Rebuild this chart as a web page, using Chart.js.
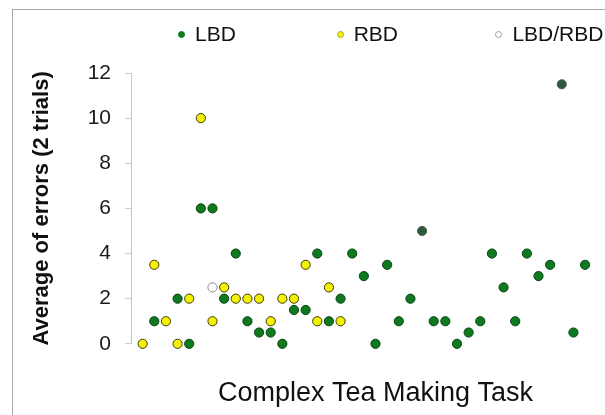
<!DOCTYPE html>
<html>
<head>
<meta charset="utf-8">
<script src="https://cdn.jsdelivr.net/npm/chart.js@4.4.1/dist/chart.umd.min.js"></script>
<style>
  html, body { margin: 0; padding: 0; background: #fff; width: 605px; height: 415px; overflow: hidden; }
  #frame { position: absolute; left: 12px; top: 9px; width: 720px; height: 520px; border: 1px solid #a8a8a8; box-sizing: border-box; pointer-events: none; }
  #chart { position: absolute; left: 0; top: 0; }
  #legend { position: absolute; left: 178px; top: 22px; display: flex; font: 21px "Liberation Sans", Arial, sans-serif; color: #111; line-height: 24px; white-space: nowrap; }
  #legend .item { display: flex; align-items: center; width: 158.7px; }
  #legend .dot { width: 7px; height: 7px; border-radius: 50%; box-sizing: border-box; margin-right: 10px; border: 1px solid; }
</style>
</head>
<body>
<div id="frame"></div>
<canvas id="chart" width="630" height="415"></canvas>
<div id="legend"></div>
<script>
// Participant index (x) and mean number of errors over 2 trials (y)
const lbdX = [2, 4, 5, 6, 7, 8, 9, 10, 11, 12, 13, 14, 15, 16, 17, 18, 19, 20, 21, 22,
              23, 24, 25, 26, 27, 28, 29, 30, 31, 32, 33, 34, 35, 36, 37, 38, 39];
const lbdY = [1, 2, 0, 6, 6, 2, 4, 1, 0.5, 0.5, 0, 1.5, 1.5, 4, 1, 2, 4, 3, 0, 3.5,
              1, 2, 5, 1, 1, 0, 0.5, 1, 4, 2.5, 1, 4, 3, 3.5, 11.5, 0.5, 3.5];

const rbdX = [1, 2, 3, 4, 5, 6, 7, 8, 9, 10, 11, 12, 13, 14, 15, 16, 17, 18];
const rbdY = [0, 3.5, 1, 0, 2, 10, 1, 2.5, 2, 2, 2, 1, 2, 2, 3.5, 1, 2.5, 1];

const bothX = [7];
const bothY = [2.5];

// LBD cases that sit on top of an LBD/RBD case are drawn in a darker shade
const mixedX = [25, 37];

const yTicks = [0, 2, 4, 6, 8, 10, 12];

const seriesLabels = ['LBD', 'RBD', 'LBD/RBD'];
const xTitle = 'Complex Tea Making Task';
const yTitle = 'Average of errors (2 trials)';

const FONT = '"Liberation Sans", Arial, sans-serif';
const toPoints = (xs, ys) => xs.map((x, i) => ({ x: x, y: ys[i] }));

const GREEN = '#0d7a1f', GREEN_EDGE = '#0a4412';
const MIXED = '#2c5a3a', MIXED_EDGE = '#555f58';
const YELLOW = '#f4f200', YELLOW_EDGE = '#3d3a10';
const WHITE = '#ffffff', WHITE_EDGE = '#8a8a8a';

const pointBase = { showLine: false, pointRadius: 4.6, pointBorderWidth: 1, pointHoverRadius: 4.6, clip: false };

const chart = new Chart(document.getElementById('chart'), {
  type: 'scatter',
  data: {
    datasets: [
      Object.assign({}, pointBase, {
        label: seriesLabels[0],
        data: toPoints(lbdX, lbdY),
        backgroundColor: GREEN,
        borderColor: GREEN_EDGE,
        pointBackgroundColor: c => (c.raw && mixedX.includes(c.raw.x)) ? MIXED : GREEN,
        pointBorderColor: c => (c.raw && mixedX.includes(c.raw.x)) ? MIXED_EDGE : GREEN_EDGE,
        legendDot: { fill: GREEN, edge: GREEN }
      }),
      Object.assign({}, pointBase, {
        label: seriesLabels[1],
        data: toPoints(rbdX, rbdY),
        backgroundColor: YELLOW,
        borderColor: YELLOW_EDGE,
        pointBackgroundColor: YELLOW,
        pointBorderColor: YELLOW_EDGE,
        legendDot: { fill: YELLOW, edge: '#a4a23a' }
      }),
      Object.assign({}, pointBase, {
        label: seriesLabels[2],
        data: toPoints(bothX, bothY),
        backgroundColor: WHITE,
        borderColor: WHITE_EDGE,
        pointBackgroundColor: WHITE,
        pointBorderColor: WHITE_EDGE,
        legendDot: { fill: WHITE, edge: '#a0a0a0' }
      })
    ]
  },
  options: {
    responsive: false,
    animation: false,
    layout: { padding: { left: 0, right: 10, top: 73, bottom: 0 } },
    plugins: { legend: { display: false }, tooltip: { enabled: false } },
    scales: {
      x: {
        type: 'linear',
        min: 0,
        max: 42,
        grid: { display: false, drawTicks: false },
        border: { display: false },
        ticks: { display: false },
        title: {
          display: true,
          text: xTitle,
          color: '#111',
          font: { family: FONT, size: 27 },
          padding: { top: 33.8, bottom: 5 }
        }
      },
      y: {
        min: 0,
        max: 12,
        afterBuildTicks: s => { s.ticks = yTicks.map(v => ({ value: v })); },
        afterFit: s => { s.width = 131; },
        ticks: { padding: 14, color: '#1a1a1a', font: { family: FONT, size: 21 } },
        grid: { drawOnChartArea: false, drawTicks: true, tickLength: 6, color: '#cfcfcf' },
        border: { color: '#c8c8c8', width: 1 },
        title: {
          display: true,
          text: yTitle,
          color: '#111',
          font: { family: FONT, size: 22, weight: 'bold' },
          padding: { top: 28.8, bottom: 0 }
        }
      }
    }
  }
});

// Legend built from the chart's own datasets
const legendEl = document.getElementById('legend');
chart.data.datasets.forEach(ds => {
  const item = document.createElement('div');
  item.className = 'item';
  const dot = document.createElement('span');
  dot.className = 'dot';
  dot.style.background = ds.legendDot.fill;
  dot.style.borderColor = ds.legendDot.edge;
  const txt = document.createElement('span');
  txt.textContent = ds.label;
  item.appendChild(dot);
  item.appendChild(txt);
  legendEl.appendChild(item);
});
</script>
</body>
</html>
